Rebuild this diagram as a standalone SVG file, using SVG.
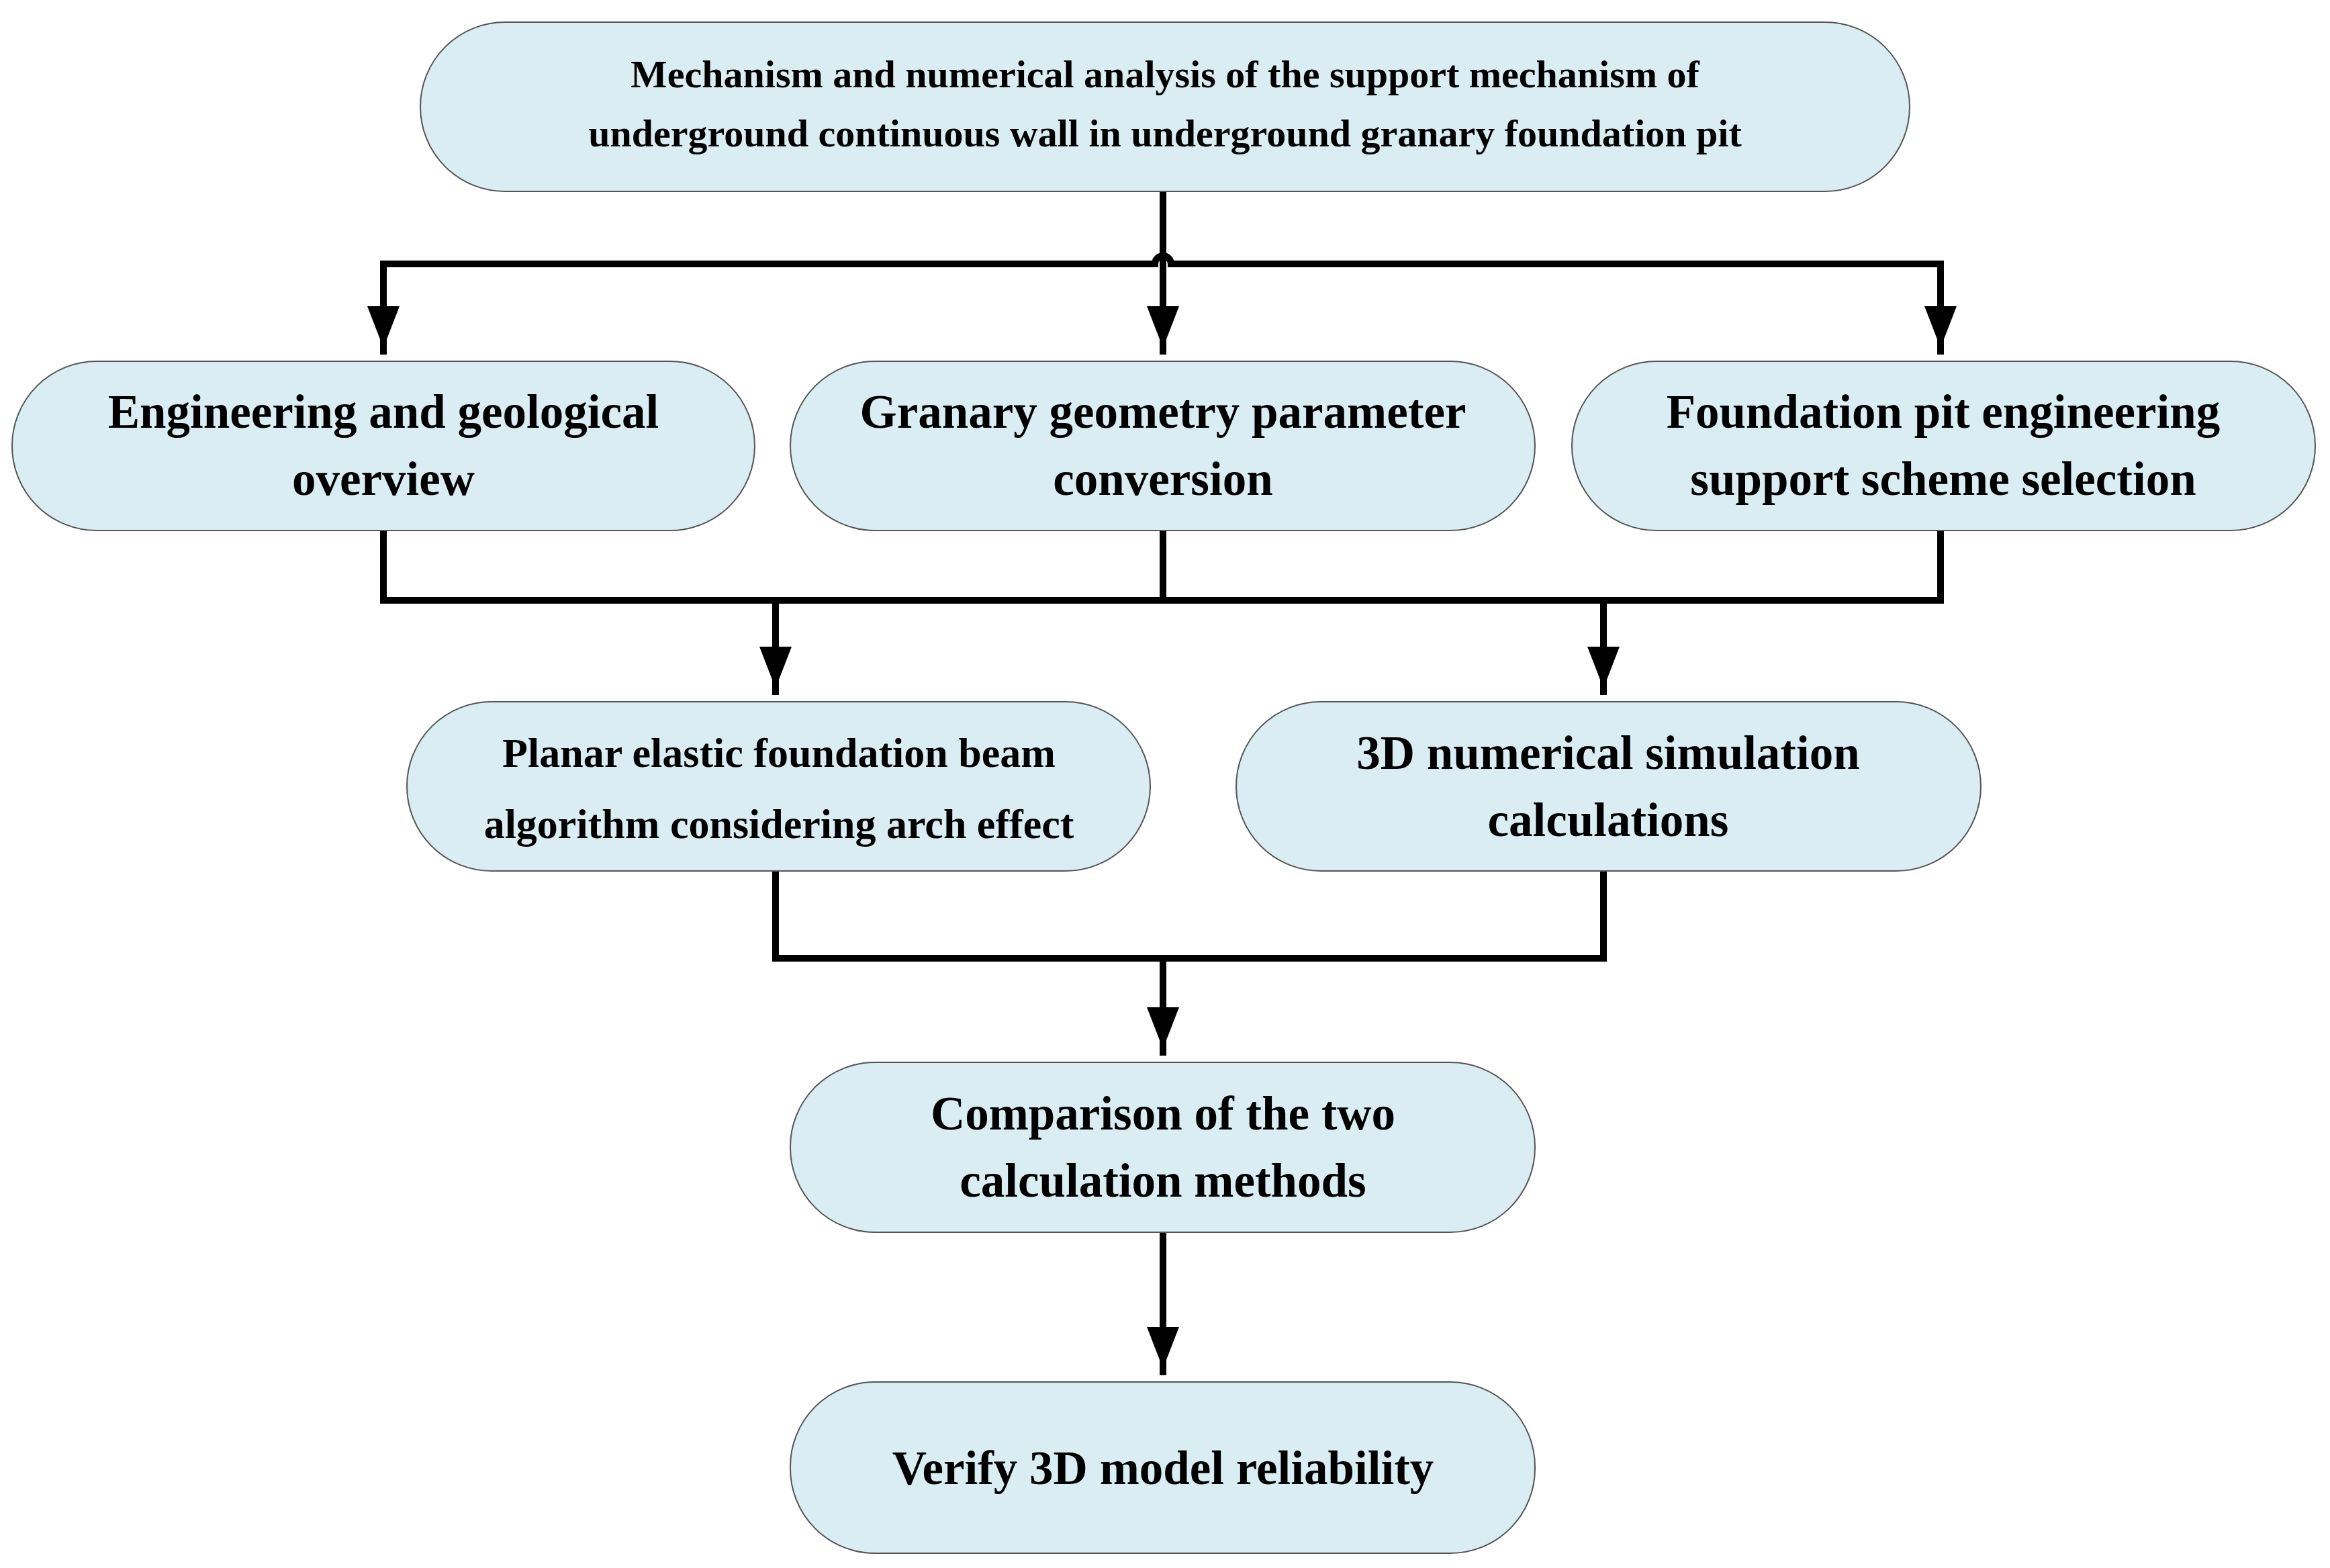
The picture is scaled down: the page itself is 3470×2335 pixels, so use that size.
<svg xmlns="http://www.w3.org/2000/svg" width="3470" height="2335" viewBox="0 0 3470 2335">
<style>
.n{fill:#daedf3;stroke:#555;stroke-width:2}
.t{font-family:"Liberation Serif",serif;font-weight:bold;fill:#000;text-anchor:middle}
.c{fill:none;stroke:#000;stroke-width:10;stroke-linejoin:miter}
</style>
<defs>
<marker id="a" markerUnits="userSpaceOnUse" markerWidth="50" markerHeight="80" viewBox="0 0 50 80" refX="25" refY="72" orient="0">
<path d="M1 0 L49 0 L25 62 Z" fill="#000"/>
</marker>
</defs>
<rect width="3470" height="2335" fill="#fff"/>
<g id="connectors">
<path class="c" d="M1732 285 V528" marker-end="url(#a)"/>
<path class="c" d="M571 528 V393 H1720 A12 12 0 0 1 1744 393 H2890 V528"/>
<path class="c" d="M571 393 V528" marker-end="url(#a)"/>
<path class="c" d="M2890 393 V528" marker-end="url(#a)"/>
<path class="c" d="M571 790 V894 H2890 V790 M1732 790 V894"/>
<path class="c" d="M1155 894 V1035" marker-end="url(#a)"/>
<path class="c" d="M2388 894 V1035" marker-end="url(#a)"/>
<path class="c" d="M1155 1297 V1427 H2388 V1297"/>
<path class="c" d="M1732 1427 V1572" marker-end="url(#a)"/>
<path class="c" d="M1732 1835 V2048" marker-end="url(#a)"/>
</g>
<g id="n0"><rect class="n" x="626" y="33" width="2218" height="252" rx="126"/>
<text class="t" font-size="58" x="1735" y="130">Mechanism and numerical analysis of the support mechanism of</text>
<text class="t" font-size="58" x="1735" y="218">underground continuous wall in underground granary foundation pit</text></g>
<g id="n1"><rect class="n" x="18" y="538" width="1106" height="252" rx="126"/>
<text class="t" font-size="71" x="571" y="637">Engineering and geological</text>
<text class="t" font-size="71" x="571" y="737">overview</text></g>
<g id="n2"><rect class="n" x="1177" y="538" width="1109" height="252" rx="126"/>
<text class="t" font-size="71" x="1732" y="637">Granary geometry parameter</text>
<text class="t" font-size="71" x="1732" y="737">conversion</text></g>
<g id="n3"><rect class="n" x="2341" y="538" width="1107" height="252" rx="126"/>
<text class="t" font-size="71" x="2894" y="637">Foundation pit engineering</text>
<text class="t" font-size="71" x="2894" y="737">support scheme selection</text></g>
<g id="n4"><rect class="n" x="606" y="1045" width="1107" height="252" rx="126"/>
<text class="t" font-size="62" x="1160" y="1142">Planar elastic foundation beam</text>
<text class="t" font-size="62" x="1160" y="1248">algorithm considering arch effect</text></g>
<g id="n5"><rect class="n" x="1841" y="1045" width="1109" height="252" rx="126"/>
<text class="t" font-size="71" x="2395" y="1145">3D numerical simulation</text>
<text class="t" font-size="71" x="2395" y="1245">calculations</text></g>
<g id="n6"><rect class="n" x="1177" y="1582" width="1109" height="253" rx="126"/>
<text class="t" font-size="71" x="1732" y="1682">Comparison of the two</text>
<text class="t" font-size="71" x="1732" y="1782">calculation methods</text></g>
<g id="n7"><rect class="n" x="1177" y="2058" width="1109" height="255" rx="126"/>
<text class="t" font-size="71" x="1732" y="2210">Verify 3D model reliability</text></g>
</svg>
